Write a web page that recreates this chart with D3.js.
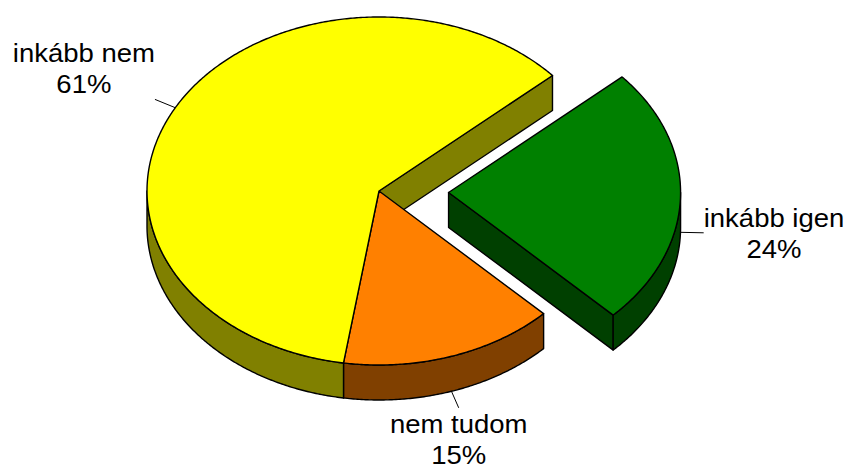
<!DOCTYPE html>
<html>
<head>
<meta charset="utf-8">
<script src="https://cdn.jsdelivr.net/npm/d3@7"></script>
<style>
  body { margin: 0; background: #fff; }
  svg { display: block; }
  text { font-family: "Liberation Sans", Arial, sans-serif; fill: #000; }
</style>
</head>
<body>
<svg id="chart" width="849" height="470"></svg>
<script>
// data
var categories = ['inkább igen', 'nem tudom', 'inkább nem'];
var values = [24, 15, 61];
var pctLabels = ['24%', '15%', '61%'];
var explodedSlice = 'inkább igen';

var topColor = d3.scaleOrdinal(categories, ['#008000', '#FF8000', '#FFFF00']);
var sideColor = d3.scaleOrdinal(categories, ['#004000', '#804000', '#808000']);

// geometry of the tilted pie
var cx = 379, cy = 191, rx = 232, ry = 174, depth = 35;
var explodeR = 0.3;
var startAngle = 48.4 * Math.PI / 180;
var fontSize = 25, stretch = 1.1, lineH = 31;

var svg = d3.select('#chart');

var pie = d3.pie().sort(null)
  .startAngle(startAngle)
  .endAngle(startAngle + 2 * Math.PI);

var arcs = pie(values).map(function(d, i) {
  var a = d.startAngle - Math.PI / 2, b = d.endAngle - Math.PI / 2;
  var mid = (a + b) / 2;
  var ex = categories[i] === explodedSlice ? explodeR : 0;
  return {
    name: categories[i], pct: pctLabels[i], a: a, b: b, mid: mid,
    ox: rx * ex * Math.cos(mid), oy: ry * ex * Math.sin(mid)
  };
});
arcs.forEach(function(s, i) {
  var prev = arcs[(i + arcs.length - 1) % arcs.length];
  var next = arcs[(i + 1) % arcs.length];
  s.prevExploded = prev.name === explodedSlice || s.name === explodedSlice;
  s.nextExploded = next.name === explodedSlice || s.name === explodedSlice;
});

function pt(s, t, r, dy) {
  return [cx + s.ox + rx * r * Math.cos(t), cy + s.oy + ry * r * Math.sin(t) + (dy || 0)];
}

function arcPts(s, t0, t1, dy) {
  var n = Math.max(2, Math.ceil(Math.abs(t1 - t0) / (Math.PI / 360)));
  return d3.range(n + 1).map(function(k) {
    return pt(s, t0 + (t1 - t0) * k / n, 1, dy);
  });
}

var line = d3.line().curve(d3.curveLinearClosed);

var sides = svg.append('g');
var tops = svg.append('g');

function face(g, pts, fill) {
  g.append('path')
    .attr('d', line(pts))
    .style('fill', fill)
    .style('stroke', '#000')
    .style('stroke-width', 1.4)
    .style('stroke-linejoin', 'round');
}

// side faces (drawn before every top face)
arcs.forEach(function(s) {
  var col = sideColor(s.name);
  // radial faces, only where a slice is pulled out
  if (s.prevExploded && Math.cos(s.a) < 0) {
    face(sides, [pt(s, 0, 0), pt(s, s.a, 1), pt(s, s.a, 1, depth), pt(s, 0, 0, depth)], col);
  }
  if (s.nextExploded && Math.cos(s.b) > 0) {
    face(sides, [pt(s, 0, 0), pt(s, s.b, 1), pt(s, s.b, 1, depth), pt(s, 0, 0, depth)], col);
  }
  // outer curved face, only the front half (0..PI) shows
  [[s.a, s.b], [s.a - 2 * Math.PI, s.b - 2 * Math.PI]].forEach(function(r) {
    var t0 = Math.max(r[0], 0), t1 = Math.min(r[1], Math.PI);
    if (t1 > t0) {
      var pts = arcPts(s, t0, t1, 0).concat(arcPts(s, t1, t0, depth));
      face(sides, pts, col);
    }
  });
});

// top faces
arcs.forEach(function(s) {
  face(tops, [pt(s, 0, 0)].concat(arcPts(s, s.a, s.b, 0)), topColor(s.name));
});

// labels with leader lines
var labels = svg.append('g');
arcs.forEach(function(s) {
  var dy = Math.sin(s.mid) > 0 ? depth : 0;
  var p0 = pt(s, s.mid, 1, dy), p1 = pt(s, s.mid, 1.1, dy);
  labels.append('line')
    .attr('x1', p0[0]).attr('y1', p0[1])
    .attr('x2', p1[0]).attr('y2', p1[1])
    .style('stroke', '#000')
    .style('stroke-width', 1);

  var dx = p1[0] - (cx + s.ox), dyy = p1[1] - (cy + s.oy + dy);
  var len = Math.sqrt(dx * dx + dyy * dyy);
  var cosP = dx / len, sinP = dyy / len;

  var g = labels.append('g');
  var t = g.append('text')
    .attr('text-anchor', 'middle')
    .style('font-size', fontSize + 'px');
  t.append('tspan').attr('x', 0).attr('y', 0).text(s.name);
  t.append('tspan').attr('x', 0).attr('y', lineH).text(s.pct);

  var w = d3.max(t.selectAll('tspan').nodes(), function(n) {
    return n.getComputedTextLength();
  }) * stretch;

  var x;
  if (cosP > 0.5) x = p1[0] + w / 2;
  else if (cosP < -0.5) x = p1[0] - w / 2;
  else x = p1[0];

  var y;
  if (sinP > 0.3) y = p1[1] + 25;
  else if (sinP < -0.3) y = p1[1] - 6 - lineH;
  else y = p1[1] - 6;

  g.attr('transform', 'translate(' + x + ',' + y + ') scale(' + stretch + ',1)');
});
</script>
</body>
</html>
